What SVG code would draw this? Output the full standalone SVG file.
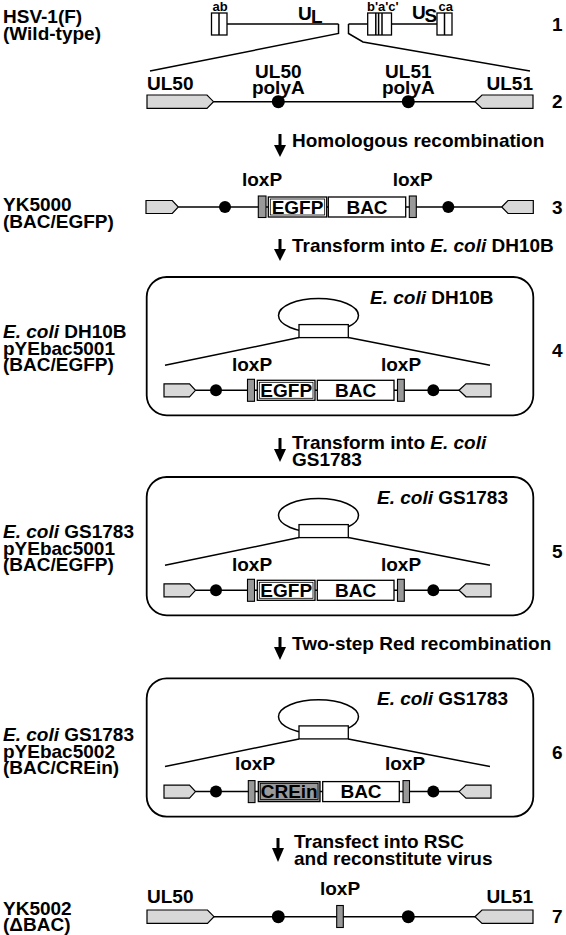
<svg xmlns="http://www.w3.org/2000/svg" width="566" height="935" viewBox="0 0 566 935">
<defs>
<style>
text{font-family:"Liberation Sans",Arial,Helvetica,sans-serif;font-weight:bold;font-size:19px;fill:#000}
.s{font-size:13px}
.i{font-style:italic}
.m{text-anchor:middle}
.e{text-anchor:end}
.ln{stroke:#000;stroke-width:1.5;fill:none}
.gene{fill:#d8d8d8;stroke:#000;stroke-width:1.2}
.lox{fill:#999;stroke:#000;stroke-width:1.1}
.box{fill:#fff;stroke:#000;stroke-width:1.3}
.inner{fill:none;stroke:#000;stroke-width:0.8}
.cre{fill:#9a9a9a;stroke:#000;stroke-width:1.3}
.cell{fill:#fff;stroke:#000;stroke-width:1.8}
.arr{stroke:#000;stroke-width:3;fill:none}
</style>
</defs>
<rect width="566" height="935" fill="#fff"/>

<!-- Row 1: HSV-1(F) genome -->
<g id="row1">
<text x="3" y="23">HSV-1(F)</text>
<text x="3" y="40">(Wild-type)</text>
<line class="ln" x1="227" y1="24" x2="338.5" y2="24"/>
<line class="ln" x1="348.5" y1="24" x2="367.7" y2="24"/>
<line class="ln" x1="391.5" y1="24" x2="437" y2="24"/>
<polyline class="ln" points="338.5,24 338.5,33.5 150,71"/>
<polyline class="ln" points="348.5,24 348.5,33.5 363,42 530,71"/>
<rect class="box" x="211.5" y="13" width="15.5" height="22"/>
<line class="ln" x1="219" y1="13" x2="219" y2="35" stroke-width="1.1"/>
<rect class="box" x="367.7" y="13" width="23.8" height="22"/>
<line class="ln" x1="375.8" y1="13" x2="375.8" y2="35" stroke-width="1.1"/>
<line class="ln" x1="378.6" y1="13" x2="378.6" y2="35" stroke-width="1.1"/>
<line class="ln" x1="382" y1="13" x2="382" y2="35" stroke-width="1.1"/>
<rect class="box" x="437" y="13" width="15" height="22"/>
<line class="ln" x1="444.5" y1="13" x2="444.5" y2="35" stroke-width="1.1"/>
<text class="s" x="212.5" y="10.5">ab</text>
<text class="s" x="367" y="10.5">b'a'c'</text>
<text class="s" x="438.5" y="10.5">ca</text>
<text x="298" y="19.5" font-size="17">U</text>
<text x="311" y="22.5" font-size="11.5">L</text>
<text x="412" y="18.5" font-size="17">U</text>
<text x="424.5" y="21.5" font-size="11.5">S</text>
<text x="552" y="31">1</text>
</g>

<!-- Row 2 -->
<g id="row2">
<line class="ln" x1="213.5" y1="101.7" x2="475" y2="101.7"/>
<polygon class="gene" points="147,95 207,95 213.5,101.7 207,108.4 147,108.4"/>
<polygon class="gene" points="475,101.7 482,95 533,95 533,108.4 482,108.4"/>
<circle cx="278.3" cy="101.7" r="6.5"/>
<circle cx="408.3" cy="101.7" r="6.5"/>
<text x="147" y="89.5">UL50</text>
<text class="m" x="278.3" y="77.5">UL50</text>
<text class="m" x="278.3" y="93.5">polyA</text>
<text class="m" x="408.3" y="77.5">UL51</text>
<text class="m" x="408.3" y="93.5">polyA</text>
<text class="e" x="533" y="89.5">UL51</text>
<text x="552" y="107.5">2</text>
</g>

<!-- Arrow 1 -->
<g id="step1">
<line class="arr" x1="280" y1="134" x2="280" y2="147"/>
<polygon points="274,145 286,145 280,157"/>
<text x="292" y="147">Homologous recombination</text>
</g>

<!-- Row 3 YK5000 -->
<g id="row3">
<text x="3" y="211">YK5000</text>
<text x="3" y="227.5">(BAC/EGFP)</text>
<line class="ln" x1="178.3" y1="207" x2="501.7" y2="207"/>
<polygon class="gene" points="146,200.5 172.3,200.5 178.3,207 172.3,213.5 146,213.5"/>
<polygon class="gene" points="501.7,207 508,200.5 533.3,200.5 533.3,213.5 508,213.5"/>
<circle cx="225" cy="207" r="6"/>
<circle cx="448.3" cy="207" r="6"/>
<rect class="lox" x="258.3" y="196" width="7.7" height="21.5"/>
<rect class="lox" x="409.3" y="196" width="7" height="21.5"/>
<rect class="box" x="268.3" y="197" width="58.4" height="20"/>
<rect class="inner" x="270.3" y="199" width="54.4" height="16"/>
<rect class="box" x="328.3" y="197" width="77.4" height="20"/>
<text class="m" x="297.5" y="213.8">EGFP</text>
<text class="m" x="367" y="213.8">BAC</text>
<text class="m" x="262" y="186">loxP</text>
<text class="m" x="412.7" y="186">loxP</text>
<text x="552" y="213.5">3</text>
</g>

<!-- Arrow 2 -->
<g id="step2">
<line class="arr" x1="280" y1="239" x2="280" y2="251"/>
<polygon points="274,249 286,249 280,261"/>
<text x="292" y="252">Transform into <tspan class="i">E. coli</tspan> DH10B</text>
</g>

<!-- Box 4 -->
<g id="box4">
<text x="3" y="338"><tspan class="i">E. coli</tspan> DH10B</text>
<text x="3" y="354.5">pYEbac5001</text>
<text x="3" y="371">(BAC/EGFP)</text>
<text x="552" y="357">4</text>
<g transform="translate(0,277)">
<rect class="cell" x="146.7" y="0" width="386.6" height="138.3" rx="20"/>
<ellipse class="ln" cx="318.5" cy="38.5" rx="40" ry="17"/>
<rect class="box" x="299" y="47.6" width="49.3" height="13"/>
<text x="370" y="26.6"><tspan class="i">E. coli</tspan> DH10B</text>
<line class="ln" x1="299" y1="60.6" x2="165" y2="88.3"/>
<line class="ln" x1="348.3" y1="60.6" x2="490" y2="88.3"/>
<line class="ln" x1="195.5" y1="113.3" x2="459" y2="113.3"/>
<polygon class="gene" points="164,106.8 189.5,106.8 195.5,113.3 189.5,119.8 164,119.8"/>
<polygon class="gene" points="459,113.3 466,106.8 491,106.8 491,119.8 466,119.8"/>
<circle cx="216" cy="113.3" r="6"/>
<circle cx="433.3" cy="113.3" r="6"/>
<rect class="lox" x="247.5" y="102.3" width="7" height="22"/>
<rect class="lox" x="397.5" y="102.3" width="6.8" height="22"/>
<rect class="box" x="257.3" y="103.3" width="57.7" height="20"/>
<rect class="inner" x="259.3" y="105.3" width="53.7" height="16"/>
<rect class="box" x="317.3" y="103.3" width="76.7" height="20"/>
<text class="m" x="286.2" y="120">EGFP</text>
<text class="m" x="355.7" y="120">BAC</text>
<text class="m" x="252" y="93.5">loxP</text>
<text class="m" x="401" y="93.5">loxP</text>
</g>
</g>

<!-- Arrow 3 -->
<g id="step3">
<line class="arr" x1="280" y1="438" x2="280" y2="451"/>
<polygon points="274,449 286,449 280,462"/>
<text x="292" y="449">Transform into <tspan class="i">E. coli</tspan></text>
<text x="292" y="465.5">GS1783</text>
</g>

<!-- Box 5 -->
<g id="box5">
<text x="3" y="538"><tspan class="i">E. coli</tspan> GS1783</text>
<text x="3" y="554.5">pYEbac5001</text>
<text x="3" y="571">(BAC/EGFP)</text>
<text x="552" y="558">5</text>
<g transform="translate(0,477)">
<rect class="cell" x="146.7" y="0" width="386.6" height="138.3" rx="20"/>
<ellipse class="ln" cx="318.5" cy="38.5" rx="40" ry="17"/>
<rect class="box" x="299" y="47.6" width="49.3" height="13"/>
<text x="377" y="26.6"><tspan class="i">E. coli</tspan> GS1783</text>
<line class="ln" x1="299" y1="60.6" x2="165" y2="88.3"/>
<line class="ln" x1="348.3" y1="60.6" x2="490" y2="88.3"/>
<line class="ln" x1="195.5" y1="113.3" x2="459" y2="113.3"/>
<polygon class="gene" points="164,106.8 189.5,106.8 195.5,113.3 189.5,119.8 164,119.8"/>
<polygon class="gene" points="459,113.3 466,106.8 491,106.8 491,119.8 466,119.8"/>
<circle cx="216" cy="113.3" r="6"/>
<circle cx="433.3" cy="113.3" r="6"/>
<rect class="lox" x="247.5" y="102.3" width="7" height="22"/>
<rect class="lox" x="397.5" y="102.3" width="6.8" height="22"/>
<rect class="box" x="257.3" y="103.3" width="57.7" height="20"/>
<rect class="inner" x="259.3" y="105.3" width="53.7" height="16"/>
<rect class="box" x="317.3" y="103.3" width="76.7" height="20"/>
<text class="m" x="286.2" y="120">EGFP</text>
<text class="m" x="355.7" y="120">BAC</text>
<text class="m" x="252" y="93.5">loxP</text>
<text class="m" x="401" y="93.5">loxP</text>
</g>
</g>

<!-- Arrow 4 -->
<g id="step4">
<line class="arr" x1="280" y1="637" x2="280" y2="649"/>
<polygon points="274,647 286,647 280,660"/>
<text x="292" y="650">Two-step Red recombination</text>
</g>

<!-- Box 6 -->
<g id="box6">
<text x="3" y="741"><tspan class="i">E. coli</tspan> GS1783</text>
<text x="3" y="757.5">pYEbac5002</text>
<text x="3" y="774">(BAC/CREin)</text>
<text x="552" y="759">6</text>
<g transform="translate(0,678.3)">
<rect class="cell" x="146.7" y="0" width="386.6" height="138.3" rx="20"/>
<ellipse class="ln" cx="318.5" cy="38.5" rx="40" ry="17"/>
<rect class="box" x="299" y="47.6" width="49.3" height="13"/>
<text x="377" y="26.6"><tspan class="i">E. coli</tspan> GS1783</text>
<line class="ln" x1="299" y1="60.6" x2="165" y2="88.3"/>
<line class="ln" x1="348.3" y1="60.6" x2="490" y2="88.3"/>
<line class="ln" x1="195.5" y1="113.3" x2="459" y2="113.3"/>
<polygon class="gene" points="164,106.8 189.5,106.8 195.5,113.3 189.5,119.8 164,119.8"/>
<polygon class="gene" points="459,113.3 466,106.8 491,106.8 491,119.8 466,119.8"/>
<circle cx="216" cy="113.3" r="6"/>
<circle cx="433.3" cy="113.3" r="6"/>
<rect class="lox" x="248.3" y="102.3" width="6.7" height="22"/>
<rect class="lox" x="403" y="102.3" width="6.5" height="22"/>
<rect class="cre" x="258.3" y="103.3" width="61.7" height="20"/>
<rect class="inner" x="260.3" y="105.3" width="57.7" height="16"/>
<rect class="box" x="322.7" y="103.3" width="76.6" height="20"/>
<text class="m" x="289.2" y="120" fill="#222">CREin</text>
<text class="m" x="361" y="120">BAC</text>
<text class="m" x="255" y="91.7">loxP</text>
<text class="m" x="405" y="91.7">loxP</text>
</g>
</g>

<!-- Arrow 5 -->
<g id="step5">
<line class="arr" x1="278" y1="838" x2="278" y2="850"/>
<polygon points="272,848 284,848 278,862"/>
<text x="294" y="848">Transfect into RSC</text>
<text x="294" y="864.5">and reconstitute virus</text>
</g>

<!-- Row 7 YK5002 -->
<g id="row7">
<text x="3" y="915">YK5002</text>
<text x="3" y="931">(ΔBAC)</text>
<line class="ln" x1="214" y1="916.7" x2="475" y2="916.7"/>
<polygon class="gene" points="147,910 207.5,910 214,916.7 207.5,923.4 147,923.4"/>
<polygon class="gene" points="475,916.7 482,910 533,910 533,923.4 482,923.4"/>
<circle cx="278.3" cy="916.7" r="6.5"/>
<circle cx="408.3" cy="916.7" r="6.5"/>
<rect class="lox" x="336.7" y="905.5" width="6.6" height="22"/>
<text x="147" y="903">UL50</text>
<text class="e" x="533" y="903">UL51</text>
<text class="m" x="340" y="895">loxP</text>
<text x="552" y="923">7</text>
</g>
</svg>
